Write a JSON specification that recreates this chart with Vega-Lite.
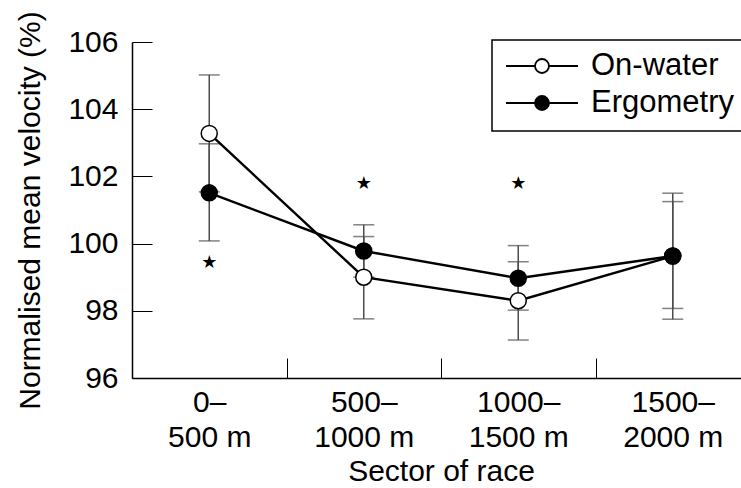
{
  "$schema": "https://vega.github.io/schema/vega-lite/v6.json",
  "width": 609,
  "height": 336,
  "autosize": {"type": "none"},
  "padding": {"left": 132, "top": 42, "right": 0, "bottom": 110},
  "background": "white",
  "config": {
    "view": {"stroke": null},
    "font": "Liberation Sans",
    "axis": {
      "domainColor": "black",
      "domainWidth": 1.5,
      "tickColor": "black",
      "tickWidth": 1,
      "labelColor": "black",
      "titleColor": "black",
      "labelFont": "Liberation Sans",
      "titleFont": "Liberation Sans",
      "labelFontSize": 30,
      "titleFontSize": 30,
      "titleFontWeight": "normal",
      "grid": false
    },
    "legend": {
      "orient": "none",
      "legendX": 360,
      "legendY": -2,
      "title": null,
      "symbolType": "M-1,0H-0.194A0.194,0.194 0 1,1 0.194,0A0.194,0.194 0 1,1 -0.194,0M0.194,0H1",
      "symbolSize": 5184,
      "symbolStrokeColor": "black",
      "symbolStrokeWidth": 1.8,
      "strokeColor": "black",
      "strokeWidth": 1.5,
      "fillColor": "white",
      "padding": 13,
      "clipHeight": 26,
      "rowPadding": 6,
      "labelFontSize": 31,
      "labelFont": "Liberation Sans",
      "labelColor": "black",
      "labelOffset": 12
    }
  },
  "datasets": {
    "means": [
      {"sector": "0–|500 m", "series": "On-water", "mean": 103.28, "lo": 101.54, "hi": 105.02},
      {"sector": "500–|1000 m", "series": "On-water", "mean": 99.0, "lo": 97.76, "hi": 100.21},
      {"sector": "1000–|1500 m", "series": "On-water", "mean": 98.3, "lo": 97.13, "hi": 99.46},
      {"sector": "1500–|2000 m", "series": "On-water", "mean": 99.63, "lo": 97.75, "hi": 101.5},
      {"sector": "0–|500 m", "series": "Ergometry", "mean": 101.51, "lo": 100.08, "hi": 102.97},
      {"sector": "500–|1000 m", "series": "Ergometry", "mean": 99.78, "lo": 99.0, "hi": 100.56},
      {"sector": "1000–|1500 m", "series": "Ergometry", "mean": 98.97, "lo": 98.02, "hi": 99.94},
      {"sector": "1500–|2000 m", "series": "Ergometry", "mean": 99.63, "lo": 98.07, "hi": 101.25}
    ],
    "stars": [
      {"sector": "0–|500 m", "y": 99.41, "label": "★"},
      {"sector": "500–|1000 m", "y": 101.77, "label": "★"},
      {"sector": "1000–|1500 m", "y": 101.77, "label": "★"}
    ]
  },
  "encoding": {
    "x": {
      "field": "sector",
      "type": "nominal",
      "sort": ["0–|500 m", "500–|1000 m", "1000–|1500 m", "1500–|2000 m"],
      "scale": {"type": "band", "range": [0, 618], "paddingInner": 0, "paddingOuter": 0},
      "axis": {
        "title": "Sector of race",
        "labelExpr": "datum.value ? split(datum.value, '|') : ''",
        "labelAngle": 0,
        "labelLineHeight": 35,
        "labelPadding": 29,
        "tickBand": "extent",
        "tickSize": -20,
        "titlePadding": 4
      }
    }
  },
  "layer": [
    {
      "data": {"name": "means"},
      "mark": {"type": "rule", "color": "#4d4d4d", "strokeWidth": 1.5},
      "encoding": {
        "y": {
          "field": "lo",
          "type": "quantitative",
          "scale": {"domain": [96, 106], "nice": false, "zero": false},
          "axis": {
            "title": "Normalised mean velocity (%)",
            "values": [96, 98, 100, 102, 104, 106],
            "tickSize": -20,
            "labelPadding": 34,
            "titlePadding": 22
          }
        },
        "y2": {"field": "hi"}
      }
    },
    {
      "data": {"name": "means"},
      "mark": {"type": "tick", "color": "#4d4d4d", "size": 21, "thickness": 1.5, "orient": "horizontal"},
      "encoding": {"y": {"field": "lo", "type": "quantitative"}}
    },
    {
      "data": {"name": "means"},
      "mark": {"type": "tick", "color": "#4d4d4d", "size": 21, "thickness": 1.5, "orient": "horizontal"},
      "encoding": {"y": {"field": "hi", "type": "quantitative"}}
    },
    {
      "data": {"name": "means"},
      "mark": {"type": "line", "color": "black", "strokeWidth": 2.4},
      "encoding": {
        "y": {"field": "mean", "type": "quantitative"},
        "detail": {"field": "series"}
      }
    },
    {
      "data": {"name": "means"},
      "mark": {"type": "point", "filled": true, "size": 256, "stroke": "black", "strokeWidth": 1.5, "opacity": 1},
      "encoding": {
        "y": {"field": "mean", "type": "quantitative"},
        "fill": {
          "field": "series",
          "type": "nominal",
          "scale": {"domain": ["On-water", "Ergometry"], "range": ["white", "black"]},
          "legend": {}
        }
      }
    },
    {
      "data": {"name": "stars"},
      "mark": {"type": "text", "font": "DejaVu Sans", "fontSize": 18, "color": "black", "baseline": "middle", "align": "center"},
      "encoding": {
        "y": {"field": "y", "type": "quantitative"},
        "text": {"field": "label"}
      }
    }
  ]
}
